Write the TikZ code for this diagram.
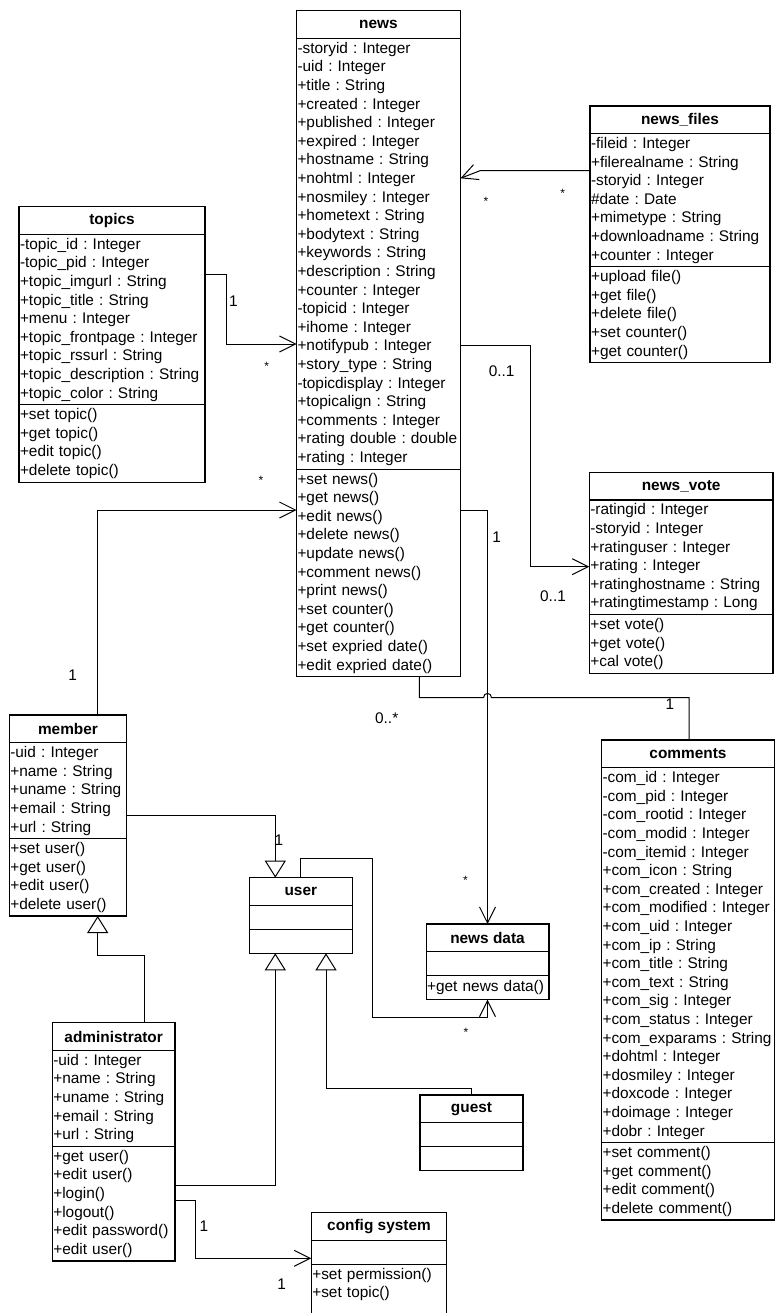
\documentclass[tikz,border=0pt]{standalone}
\usepackage{fontspec}
\setmainfont{Liberation Sans}
\usetikzlibrary{arrows.meta}

% one compartment row: fixed 18.6pt line box, never broken
\newcommand\rowstrut{\rule[-5.1pt]{0pt}{18.6pt}}
\newcommand\rw[1]{\rowstrut\mbox{#1}}
\newcommand\classfont{\fontsize{15.4}{18.6}\selectfont\frenchspacing}

\tikzset{
  classhead/.style={draw, line width=1.2pt, anchor=north west, outer sep=0pt,
    inner sep=0pt, minimum height=27.6pt, align=center,
    font=\classfont\bfseries},
  compart/.style={draw, line width=1.2pt, anchor=north west, outer sep=0pt,
    inner xsep=1pt, inner ysep=1.5pt, minimum height=24pt, align=left,
    font=\classfont},
  conn/.style={line width=1pt},
  assoc/.style={conn, -{Straight Barb[length=16pt,width=16pt,line width=1pt]}},
  gen/.style={conn, -{Triangle[open,length=17pt,width=21pt,line width=1pt,fill=white]}},
  lab/.style={inner sep=0pt, font=\classfont},
  star/.style={inner sep=0pt, font=\fontsize{12}{12}\selectfont}
}

% \umlclass{name}{x}{y}{width}{title}{attributes}{operations}
\newcommand\umlclass[7]{%
  \pgfmathsetmacro\umlinner{#4-2}%
  \node[classhead, minimum width=#4pt] (#1) at (#2,#3) {#5};
  \node[compart, text width=\umlinner pt] (#1-a) at (#1.south west) {#6};
  \node[compart, text width=\umlinner pt] (#1-m) at (#1-a.south west) {#7};
}

\begin{document}
\begin{tikzpicture}[x=1pt,y=-1pt]
\useasboundingbox[fill=white] (0,0) rectangle (775,1313);

% ---------- classes ----------
\umlclass{news}{296.5}{10.7}{164}{news}{%
\rw{-storyid : Integer}\\
\rw{-uid : Integer}\\
\rw{+title : String}\\
\rw{+created : Integer}\\
\rw{+published : Integer}\\
\rw{+expired : Integer}\\
\rw{+hostname : String}\\
\rw{+nohtml : Integer}\\
\rw{+nosmiley : Integer}\\
\rw{+hometext : String}\\
\rw{+bodytext : String}\\
\rw{+keywords : String}\\
\rw{+description : String}\\
\rw{+counter : Integer}\\
\rw{-topicid : Integer}\\
\rw{+ihome : Integer}\\
\rw{+notifypub : Integer}\\
\rw{+story\_type : String}\\
\rw{-topicdisplay : Integer}\\
\rw{+topicalign : String}\\
\rw{+comments : Integer}\\
\rw{+rating double : double}\\
\rw{+rating : Integer}}{%
\rw{+set news()}\\
\rw{+get news()}\\
\rw{+edit news()}\\
\rw{+delete news()}\\
\rw{+update news()}\\
\rw{+comment news()}\\
\rw{+print news()}\\
\rw{+set counter()}\\
\rw{+get counter()}\\
\rw{+set expried date()}\\
\rw{+edit expried date()}}

\umlclass{topics}{19}{206.7}{186}{topics}{%
\rw{-topic\_id : Integer}\\
\rw{-topic\_pid : Integer}\\
\rw{+topic\_imgurl : String}\\
\rw{+topic\_title : String}\\
\rw{+menu : Integer}\\
\rw{+topic\_frontpage : Integer}\\
\rw{+topic\_rssurl : String}\\
\rw{+topic\_description : String}\\
\rw{+topic\_color : String}}{%
\rw{+set topic()}\\
\rw{+get topic()}\\
\rw{+edit topic()}\\
\rw{+delete topic()}}

\umlclass{newsfiles}{590}{106}{180}{news\_files}{%
\rw{-fileid : Integer}\\
\rw{+filerealname : String}\\
\rw{-storyid : Integer}\\
\rw{\#date : Date}\\
\rw{+mimetype : String}\\
\rw{+downloadname : String}\\
\rw{+counter : Integer}}{%
\rw{+upload file()}\\
\rw{+get file()}\\
\rw{+delete file()}\\
\rw{+set counter()}\\
\rw{+get counter()}}

\umlclass{newsvote}{589.3}{472.3}{183.7}{news\_vote}{%
\rw{-ratingid : Integer}\\
\rw{-storyid : Integer}\\
\rw{+ratinguser : Integer}\\
\rw{+rating : Integer}\\
\rw{+ratinghostname : String}\\
\rw{+ratingtimestamp : Long}}{%
\rw{+set vote()}\\
\rw{+get vote()}\\
\rw{+cal vote()}}

\umlclass{comments}{601.5}{740}{173}{comments}{%
\rw{-com\_id : Integer}\\
\rw{-com\_pid : Integer}\\
\rw{-com\_rootid : Integer}\\
\rw{-com\_modid : Integer}\\
\rw{-com\_itemid : Integer}\\
\rw{+com\_icon : String}\\
\rw{+com\_created : Integer}\\
\rw{+com\_modified : Integer}\\
\rw{+com\_uid : Integer}\\
\rw{+com\_ip : String}\\
\rw{+com\_title : String}\\
\rw{+com\_text : String}\\
\rw{+com\_sig : Integer}\\
\rw{+com\_status : Integer}\\
\rw{+com\_exparams : String}\\
\rw{+dohtml : Integer}\\
\rw{+dosmiley : Integer}\\
\rw{+doxcode : Integer}\\
\rw{+doimage : Integer}\\
\rw{+dobr : Integer}}{%
\rw{+set comment()}\\
\rw{+get comment()}\\
\rw{+edit comment()}\\
\rw{+delete comment()}}

\umlclass{member}{9.3}{715}{117.4}{member}{%
\rw{-uid : Integer}\\
\rw{+name : String}\\
\rw{+uname : String}\\
\rw{+email : String}\\
\rw{+url : String}}{%
\rw{+set user()}\\
\rw{+get user()}\\
\rw{+edit user()}\\
\rw{+delete user()}}

\umlclass{admin}{52.3}{1022.7}{122.7}{administrator}{%
\rw{-uid : Integer}\\
\rw{+name : String}\\
\rw{+uname : String}\\
\rw{+email : String}\\
\rw{+url : String}}{%
\rw{+get user()}\\
\rw{+edit user()}\\
\rw{+login()}\\
\rw{+logout()}\\
\rw{+edit password()}\\
\rw{+edit user()}}

\umlclass{user}{249.3}{877.7}{103}{user}{}{}

\umlclass{newsdata}{426.1}{924}{122.8}{news data}{}{%
\rw{+get news data()}}

\umlclass{guest}{420}{1095}{103}{guest}{}{}

% its lower edge lies past the page edge
\umlclass{config}{311.3}{1212.7}{135.4}{config system}{}{%
\rw{+set permission()}\\
\rw{+set topic()}\\
\rowstrut}

% ---------- associations ----------
\draw[assoc] (topics-a.east |- 0,274.3) -| (226,344) -- (news-a.west |- 0,344);
\draw[assoc] (member.north -| 97.7,0) |- (news-m.west |- 0,510);
\draw[assoc] (newsfiles-a.west |- 0,170.7) -- (480,170.7) -- (news-a.east |- 0,178.3);
\draw[assoc] (news-a.east |- 0,345.7) -| (530,566.7) -- (newsvote-a.west |- 0,566.7);
\draw[assoc] (news-m.east |- 0,510) -| (newsdata.north);
\draw[conn] (news-m.south -| 419.3,0) |- (483.5,697.7)
  .. controls (483.5,692) and (491.5,692) .. (491.5,697.7)
  -| (comments.north -| 689,0);
\draw[assoc] (user.north -| 300,0) |- (372.3,858.3) -- (372.3,1017.7) -| (newsdata-m.south);
\draw[assoc] (admin-m.east |- 0,1200) -| (195,1258.3) -- (config-a.west |- 0,1258.3);

% ---------- generalizations ----------
\draw[gen] (member-a.east |- 0,815.7) -| (user.north -| 275.3,0);
\draw[gen] (admin.north -| 144.3,0) |- (97.7,955.7) -- (member-m.south -| 97.7,0);
\draw[gen] (admin-m.east |- 0,1185) -| (user-m.south -| 275.3,0);
\draw[gen] (guest.north -| 471.7,0) |- (326,1088.3) -- (user-m.south -| 326,0);

% ---------- multiplicities ----------
\node[lab]  (m1)  at (233.3,301)   {1};
\node[star] (m2)  at (266.7,366.7) {*};
\node[star] (m3)  at (261,480)     {*};
\node[lab]  (m4)  at (72.7,675)    {1};
\node[star] (m5)  at (486,201)     {*};
\node[star] (m6)  at (562.7,193.3) {*};
\node[lab]  (m7)  at (501.7,371.3) {0..1};
\node[lab]  (m8)  at (553,596)     {0..1};
\node[lab]  (m9)  at (496.7,536.7) {1};
\node[star] (m10) at (465.5,880)   {*};
\node[lab]  (m11) at (386.7,717.7) {0..*};
\node[lab]  (m12) at (670,704)     {1};
\node[lab]  (m13) at (279,840)     {1};
\node[star] (m14) at (466,1032)    {*};
\node[lab]  (m15) at (204,1226)    {1};
\node[lab]  (m16) at (281.7,1284.3){1};
\end{tikzpicture}
\end{document}
